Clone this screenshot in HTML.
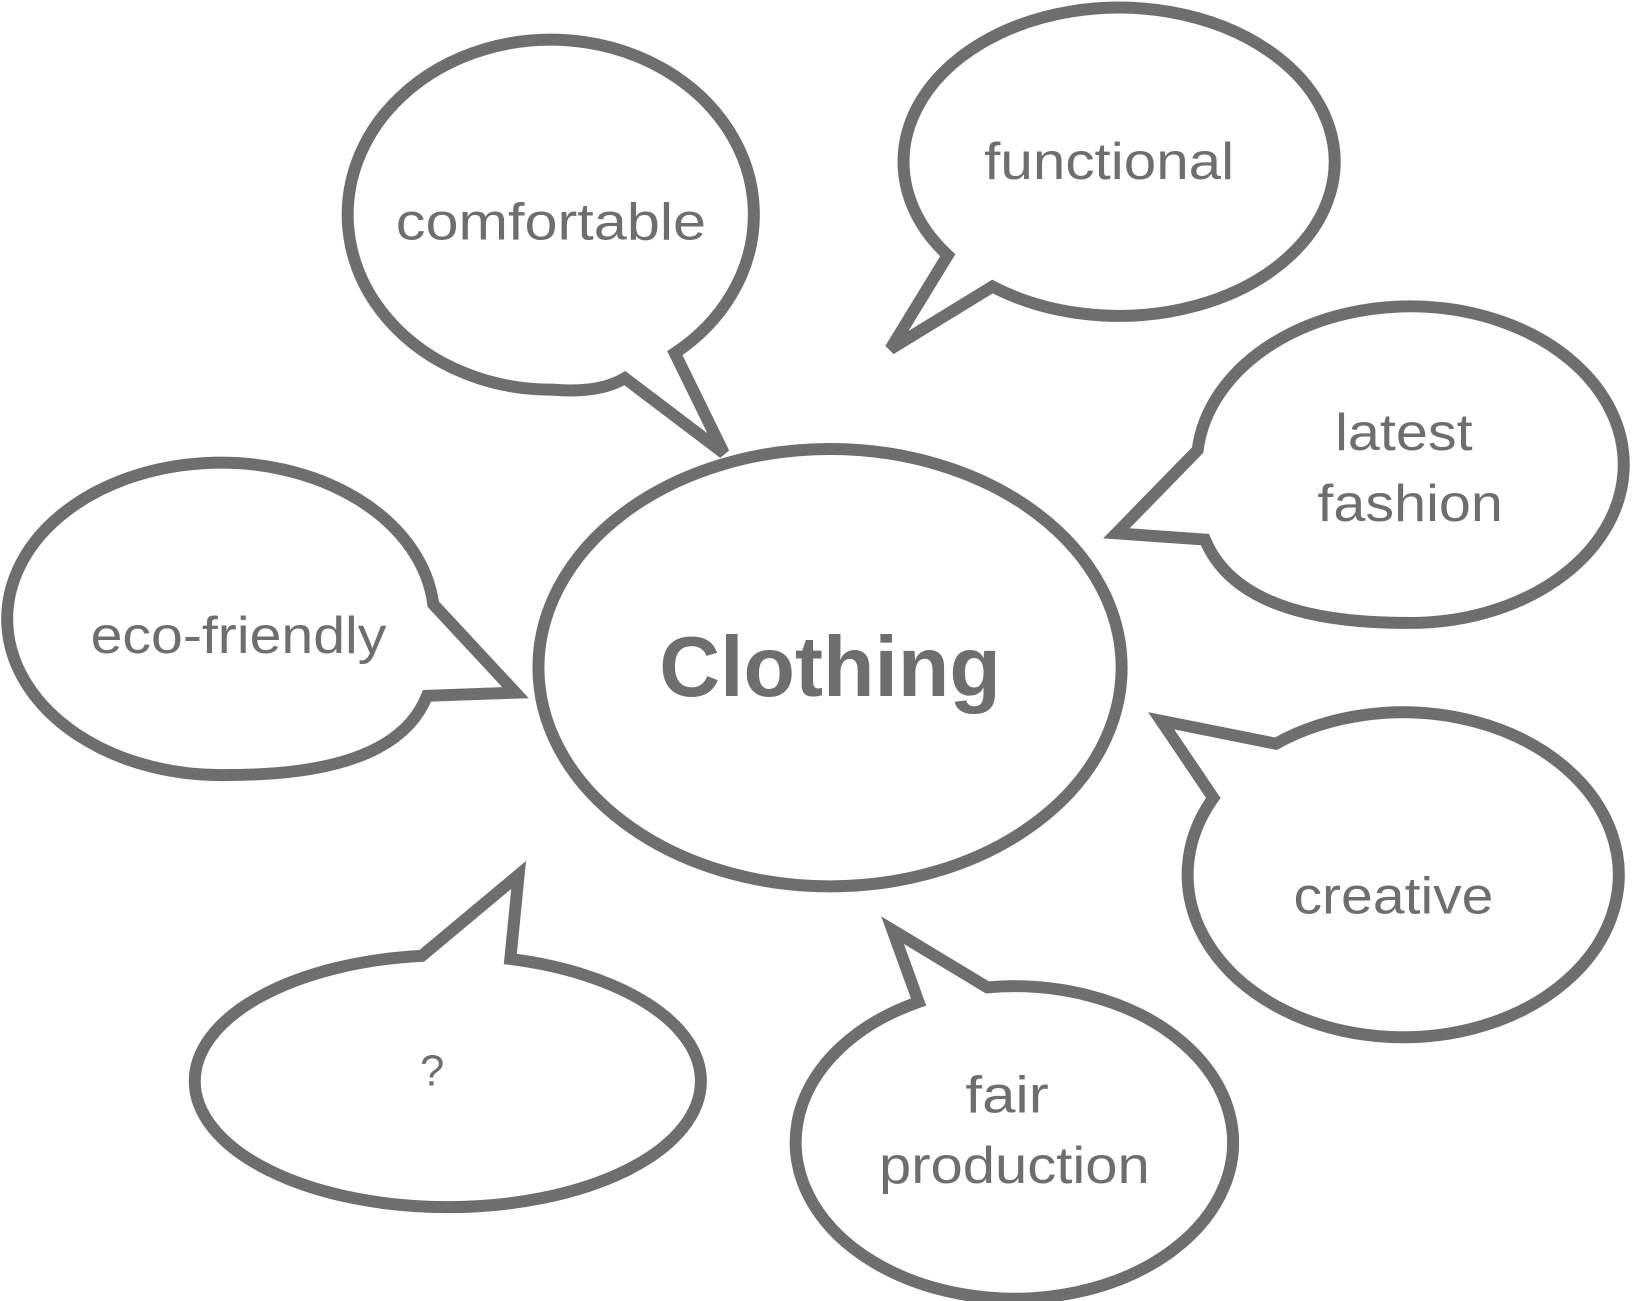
<!DOCTYPE html>
<html><head><meta charset="utf-8"><style>html,body{margin:0;padding:0;background:#fff}svg{display:block}</style></head>
<body>
<svg width="1633" height="1301" viewBox="0 0 1568 1249" xmlns="http://www.w3.org/2000/svg">
<g fill="#fff" stroke="#6e6e6e" stroke-width="11.5" stroke-linejoin="miter">
<ellipse cx="797" cy="641" rx="280" ry="210"/>
<path d="M600,363 L695,435 L648,339 A195,168 0 1 0 530,374 Q575,378 600,363 Z"/>
<path d="M953,275 L855,335 L910,245 A207,148 0 1 1 953,275 Z"/>
<path d="M1157,518 Q1190,598 1350,598 A205,152 0 1 0 1150,432 L1072,512 Z"/>
<path d="M410,668 Q380,744 220,744 A205,150 0 1 1 416,580 L495,665 Z"/>
<path d="M1165,766 A207,156 0 1 0 1225,714 L1115,692 Z"/>
<path d="M882,962 A210,150 0 1 0 948,948 L857,893 Z"/>
<path d="M490,920.7 A243,121 0 0 1 673,1038 A243,121 0 0 1 430,1159 A243,121 0 0 1 187,1038 A243,121 0 0 1 405,917.7 L498,840 Z"/>
</g>
<g fill="#6e6e6e" font-family="Liberation Sans, sans-serif" font-size="50" text-anchor="middle">
<text x="529" y="230" textLength="298" lengthAdjust="spacingAndGlyphs">comfortable</text>
<text x="1065" y="172" textLength="240" lengthAdjust="spacingAndGlyphs">functional</text>
<text x="1348" y="432" textLength="132" lengthAdjust="spacingAndGlyphs">latest</text>
<text x="1354" y="500" textLength="178" lengthAdjust="spacingAndGlyphs">fashion</text>
<text x="229" y="627" textLength="284" lengthAdjust="spacingAndGlyphs">eco-friendly</text>
<text x="1338" y="877" textLength="192" lengthAdjust="spacingAndGlyphs">creative</text>
<text x="967" y="1068" textLength="80" lengthAdjust="spacingAndGlyphs">fair</text>
<text x="974" y="1136" textLength="260" lengthAdjust="spacingAndGlyphs">production</text>
<text x="415" y="1042" font-size="42">?</text>
<text x="797" y="668" font-size="82" font-weight="bold" textLength="328" lengthAdjust="spacingAndGlyphs">Clothing</text>
</g>
</svg>
</body></html>
